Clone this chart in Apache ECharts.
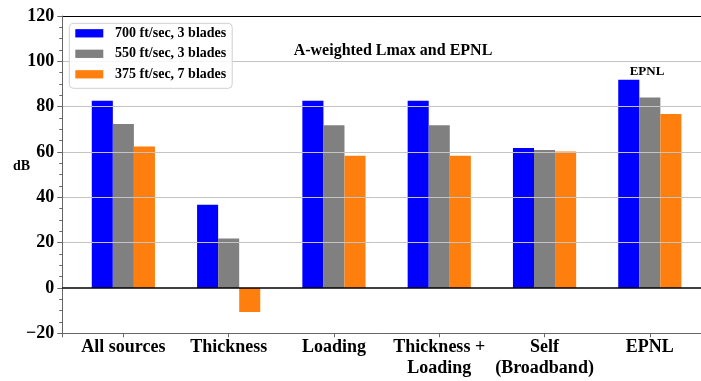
<!DOCTYPE html>
<html><head><meta charset="utf-8">
<script src="https://cdn.jsdelivr.net/npm/echarts@6/dist/echarts.min.js"></script>
<style>html,body{margin:0;padding:0;background:#fff}#c{width:701px;height:381px}</style>
</head><body><div id="c"></div>
<script>
const categories = ['All sources', 'Thickness', 'Loading', 'Thickness +\nLoading', 'Self\n(Broadband)', 'EPNL'];
const seriesNames = ['700 ft/sec, 3 blades', '550 ft/sec, 3 blades', '375 ft/sec, 7 blades'];
const blade700 = [82.6, 36.7, 82.6, 82.6, 61.8, 91.9];
const blade550 = [72.3, 21.8, 71.8, 71.8, 60.9, 84.0];
const blade375 = [62.4, -10.6, 58.3, 58.3, 60.2, 76.8];
const yMin = -20, yMax = 120, yStep = 20;
const xMin = -0.58, xMax = 5.58;

const FONT = "'Liberation Serif', 'DejaVu Serif', serif";
const colors = ['#0000ff', '#808080', '#ff7f0e'];
const values = [blade700, blade550, blade375];

const chart = echarts.init(document.getElementById('c'), null, {renderer: 'canvas'});
const gridColors = [];
for (let v = yMin; v <= yMax; v += yStep) {
  gridColors.push((v === yMin || v === 0 || v === yMax) ? 'rgba(0,0,0,0)' : '#c4c4c4');
}
const series = values.map((arr, i) => ({
  name: seriesNames[i],
  type: 'bar',
  barWidth: 21.06,
  barGap: '0%',
  itemStyle: {color: colors[i]},
  data: arr.map((v, k) => [k, v]),
  z: 2
}));
series[0].markLine = {
  silent: true, symbol: 'none', animation: false, z: 5,
  label: {show: false},
  lineStyle: {color: '#000', width: 1.5, type: 'solid'},
  data: [{yAxis: 0}]
};

chart.setOption({
  animation: false,
  grid: {left: 62.3, top: 16, width: 648.6, height: 317.3, containLabel: false, outerBoundsMode: 'none'},
  legend: {
    orient: 'vertical', left: 69.3, top: 23.3,
    padding: [3, 6, 7, 6],
    itemWidth: 28, itemHeight: 8.3, itemGap: 6.5,
    icon: 'rect',
    backgroundColor: 'rgba(255,255,255,0.85)',
    borderColor: '#d0d0d0', borderWidth: 1, borderRadius: 4,
    textStyle: {fontFamily: FONT, fontWeight: 'bold', fontSize: 14, lineHeight: 14, color: '#000', padding: [0, 0, 0, 6.7]},
    data: seriesNames,
    z: 6
  },
  xAxis: [{
    type: 'value', position: 'bottom', min: xMin, max: xMax,
    minInterval: 1, maxInterval: 1,
    axisLine: {show: true, onZero: false, lineStyle: {color: '#666', width: 1}},
    axisTick: {show: true, length: 4, lineStyle: {color: '#666'}},
    splitLine: {show: false},
    axisLabel: {
      margin: 4, fontFamily: FONT, fontWeight: 'bold', fontSize: 18, lineHeight: 21, color: '#000',
      showMinLabel: true, showMaxLabel: true,
      formatter: v => (Math.abs(v - Math.round(v)) < 1e-6 && categories[Math.round(v)] !== undefined) ? categories[Math.round(v)] : ''
    }
  }, {
    type: 'value', position: 'top', min: xMin, max: xMax,
    axisLine: {show: true, onZero: false, lineStyle: {color: '#000', width: 1}},
    axisTick: {show: false}, axisLabel: {show: false}, splitLine: {show: false}
  }],
  yAxis: {
    type: 'value', min: yMin, max: yMax, interval: yStep, z: 3,
    axisLine: {show: true, onZero: false, lineStyle: {color: '#666', width: 1}},
    axisTick: {show: true, length: 5, lineStyle: {color: '#666'}},
    minorTick: {show: true, splitNumber: 4, length: 3, lineStyle: {color: '#666'}},
    splitLine: {show: true, lineStyle: {color: gridColors, width: 1.2}},
    axisLabel: {margin: 8, fontFamily: FONT, fontWeight: 'bold', fontSize: 18, color: '#000',
      formatter: v => String(v).replace('-', '\u2212')}
  },
  graphic: [
    {type: 'text', x: 393, y: 51.3, z: 10, style: {text: 'A-weighted Lmax and EPNL', font: "bold 16px 'Liberation Serif', serif", fill: '#000', textAlign: 'center', textVerticalAlign: 'middle'}},
    {type: 'text', x: 647, y: 71.3, z: 10, style: {text: 'EPNL', font: "bold 13px 'Liberation Serif', serif", fill: '#000', textAlign: 'center', textVerticalAlign: 'middle'}},
    {type: 'text', x: 21.5, y: 166.7, z: 10, style: {text: 'dB', font: "bold 14px 'Liberation Serif', serif", fill: '#000', textAlign: 'center', textVerticalAlign: 'middle'}}
  ],
  series: series
});
</script></body></html>
